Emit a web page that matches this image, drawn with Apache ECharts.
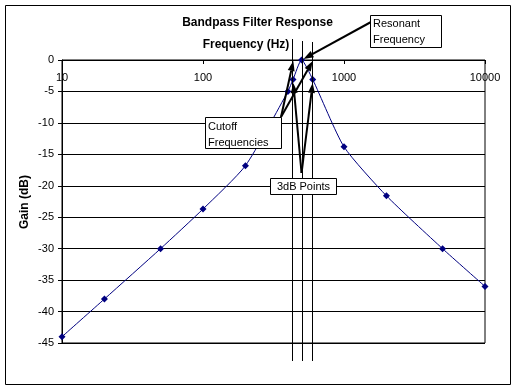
<!DOCTYPE html>
<html><head><meta charset="utf-8">
<script src="https://cdn.jsdelivr.net/npm/echarts@6/dist/echarts.min.js"></script>
<style>html,body{margin:0;padding:0;background:#fff}#c{width:525px;height:390px}</style>
</head><body><div id="c"></div>
<script>
// ---- data ----
const frequencies = [10, 20, 50, 100, 200, 400, 435, 500, 600, 1000, 2000, 5000, 10000];
const gains = [-44, -38, -30, -23.7, -16.8, -5, -3.1, 0, -3.1, -13.8, -21.6, -30, -36];
const markerFreqs = [430, 500, 590];          // vertical reference lines
const cutoffFreqs = [430, 590];               // cutoff frequencies
const resonantFreq = 500;
const threeDbGain = -3.5;
const titleText = 'Bandpass Filter Response';
const xAxisTitle = 'Frequency (Hz)';
const yAxisTitle = 'Gain (dB)';

const FONT = '"Liberation Sans", Arial, sans-serif';
const chart = echarts.init(document.getElementById('c'), null, {renderer: 'canvas'});

chart.setOption({
  animation: false,
  backgroundColor: '#fff',
  grid: {left: 62, right: 40, top: 60, bottom: 47, show: true, borderColor: '#000', borderWidth: 1, backgroundColor: 'transparent'},
  xAxis: {
    type: 'log', logBase: 10, min: 10, max: 10000, position: 'top',
    axisLine: {show: true, lineStyle: {color: '#000', width: 1}},
    axisTick: {show: true, inside: true, length: 4, lineStyle: {color: '#000'}},
    minorTick: {show: false},
    axisLabel: {inside: true, margin: 12, color: '#000', fontSize: 11, fontFamily: FONT, formatter: v => String(Math.round(v))},
    splitLine: {show: false}
  },
  yAxis: {
    type: 'value', min: -45, max: 0, interval: 5,
    axisLine: {show: true, lineStyle: {color: '#000', width: 1}},
    axisTick: {show: true, inside: false, length: 4, lineStyle: {color: '#000'}},
    axisLabel: {margin: 8, color: '#000', fontSize: 11, fontFamily: FONT},
    splitLine: {show: true, lineStyle: {color: '#000', width: 1}}
  },
  series: [{
    type: 'line',
    data: frequencies.map((f, i) => [f, gains[i]]),
    smooth: 0.2,
    symbol: 'diamond', symbolSize: 7,
    itemStyle: {color: '#000080'},
    lineStyle: {color: '#000080', width: 1},
    z: 3
  }]
});

function px(f, g) { return chart.convertToPixel({xAxisIndex: 0, yAxisIndex: 0}, [f, g]); }
function arrow(x1, y1, x2, y2) {
  const dx = x2 - x1, dy = y2 - y1, L = Math.hypot(dx, dy), ux = dx / L, uy = dy / L;
  const hl = 10, hw = 3.5;
  const bx = x2 - ux * hl, by = y2 - uy * hl;
  return [
    {type: 'line', silent: true, z: 20, shape: {x1: x1, y1: y1, x2: bx, y2: by}, style: {stroke: '#000', lineWidth: 2}},
    {type: 'polygon', silent: true, z: 20, shape: {points: [[x2, y2], [bx - uy * hw, by + ux * hw], [bx + uy * hw, by - ux * hw]]}, style: {fill: '#000'}}
  ];
}
function box(x, y, w, h, text, tx, ty, align) {
  return [
    {type: 'rect', silent: true, z: 30, shape: {x: x, y: y, width: w, height: h}, style: {fill: '#fff', stroke: '#000', lineWidth: 1}},
    {type: 'text', silent: true, z: 31, style: {text: text, x: tx, y: ty, fill: '#000', fontSize: 11, fontFamily: FONT, lineHeight: 16, align: align || 'left', verticalAlign: 'top'}}
  ];
}

const g = [];
// outer border
g.push({type: 'rect', silent: true, z: 0, shape: {x: 5.5, y: 5.5, width: 505, height: 379}, style: {fill: 'none', stroke: '#000', lineWidth: 1}});
// titles
g.push({type: 'text', silent: true, style: {text: titleText, x: 257.5, y: 23, align: 'center', verticalAlign: 'middle', fontSize: 12, fontWeight: 'bold', fontFamily: FONT, fill: '#000'}});
g.push({type: 'text', silent: true, style: {text: xAxisTitle, x: 246, y: 45, align: 'center', verticalAlign: 'middle', fontSize: 12, fontWeight: 'bold', fontFamily: FONT, fill: '#000'}});
g.push({type: 'text', silent: true, x: 25, y: 202, rotation: Math.PI / 2, style: {text: yAxisTitle, x: 0, y: 0, align: 'center', verticalAlign: 'middle', fontSize: 12, fontWeight: 'bold', fontFamily: FONT, fill: '#000'}});
// vertical reference lines
const tops = [39, 41, 42];
markerFreqs.forEach((f, i) => {
  const x = Math.round(px(f, 0)[0]) + 0.5;
  g.push({type: 'line', silent: true, z: 10, shape: {x1: x, y1: tops[i], x2: x, y2: 361}, style: {stroke: '#000', lineWidth: 1}});
});
// resonant arrow
const rp = px(resonantFreq, 0);
g.push(...arrow(371, 22, rp[0] + 2, rp[1] - 1));
// cutoff arrows
cutoffFreqs.forEach(f => { const p = px(f, 0); g.push(...arrow(281, 117, p[0] + 1, p[1] + 1)); });
// 3dB arrows
const vb = px(resonantFreq, 0);
cutoffFreqs.forEach(f => { const p = px(f, threeDbGain); g.push(...arrow(vb[0], 173, p[0] + 1, p[1] + 1)); });
// boxes
g.push(...box(370.5, 15.5, 71, 32, 'Resonant\nFrequency', 373, 16));
g.push(...box(205.5, 117.5, 76, 31, 'Cutoff\nFrequencies', 208, 119));
g.push(...box(270.5, 178.5, 66, 16, '3dB Points', 303.5, 179, 'center'));

chart.setOption({graphic: {elements: g}});
</script>
</body></html>
